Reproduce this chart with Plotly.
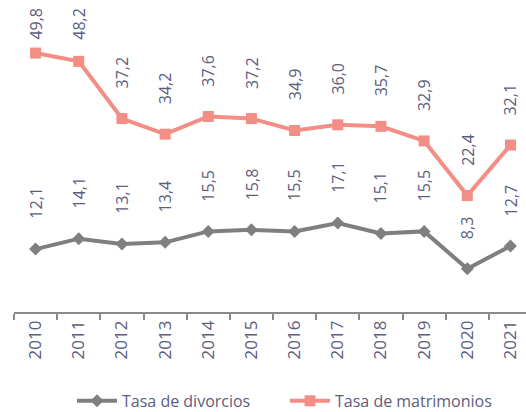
import plotly.graph_objects as go

years = ["2010", "2011", "2012", "2013", "2014", "2015", "2016", "2017", "2018", "2019", "2020", "2021"]
divorcios = [12.1, 14.1, 13.1, 13.4, 15.5, 15.8, 15.5, 17.1, 15.1, 15.5, 8.3, 12.7]
matrimonios = [49.8, 48.2, 37.2, 34.2, 37.6, 37.2, 34.9, 36.0, 35.7, 32.9, 22.4, 32.1]

GRAY = "#7f7f7f"
SALMON = "#f28e86"
TXT = "#5d5d7e"
FONT = "Open Sans"

Y_MAX = 60
PLOT_H = 312
PX_PER_UNIT = PLOT_H / Y_MAX

fig = go.Figure()
fig.add_trace(go.Scatter(
    x=years, y=divorcios, name="Tasa de divorcios", mode="lines+markers",
    line=dict(color=GRAY, width=4), marker=dict(symbol="diamond", size=10, color=GRAY),
    cliponaxis=False,
))
fig.add_trace(go.Scatter(
    x=years, y=matrimonios, name="Tasa de matrimonios", mode="lines+markers",
    line=dict(color=SALMON, width=4), marker=dict(symbol="square", size=11, color=SALMON),
    cliponaxis=False,
))

def fmt(v):
    return f"{v:.1f}".replace(".", ",")

for series in (divorcios, matrimonios):
    for i, v in enumerate(series):
        py = PLOT_H - v * PX_PER_UNIT
        shift = min(28, py - 31 - 11)
        fig.add_annotation(
            x=i, y=v, xref="x", yref="y", text=fmt(v), textangle=-90,
            showarrow=False, yanchor="bottom", xanchor="center", yshift=shift,
            font=dict(family=FONT, size=16, color=TXT),
        )

fig.update_layout(
    width=526, height=412,
    margin=dict(l=14, r=0, t=0, b=100, autoexpand=False),
    paper_bgcolor="white", plot_bgcolor="white",
    showlegend=True,
    legend=dict(orientation="h", x=(82 - 14 - 10) / 512, xanchor="left", y=-0.285, yanchor="middle",
                font=dict(family=FONT, size=16, color=TXT), itemwidth=40,
                entrywidth=158, entrywidthmode="pixels", borderwidth=0),
)
fig.update_xaxes(
    type="category", range=[-0.5, 11.36], autorange=False, automargin=False,
    tickson="boundaries", ticks="outside",
    ticklen=6, tickcolor="#8a8a8a", tickwidth=1.5, showline=True, linecolor="#8a8a8a",
    linewidth=1.5, showgrid=False, tickangle=-90,
    tickfont=dict(family=FONT, size=17, color=TXT),
)
fig.update_yaxes(range=[0, Y_MAX], visible=False, showgrid=False, automargin=False)

fig.write_html("out.html", config={"displayModeBar": False},
               post_script="document.body.style.margin='0';document.body.style.overflow='hidden';")
